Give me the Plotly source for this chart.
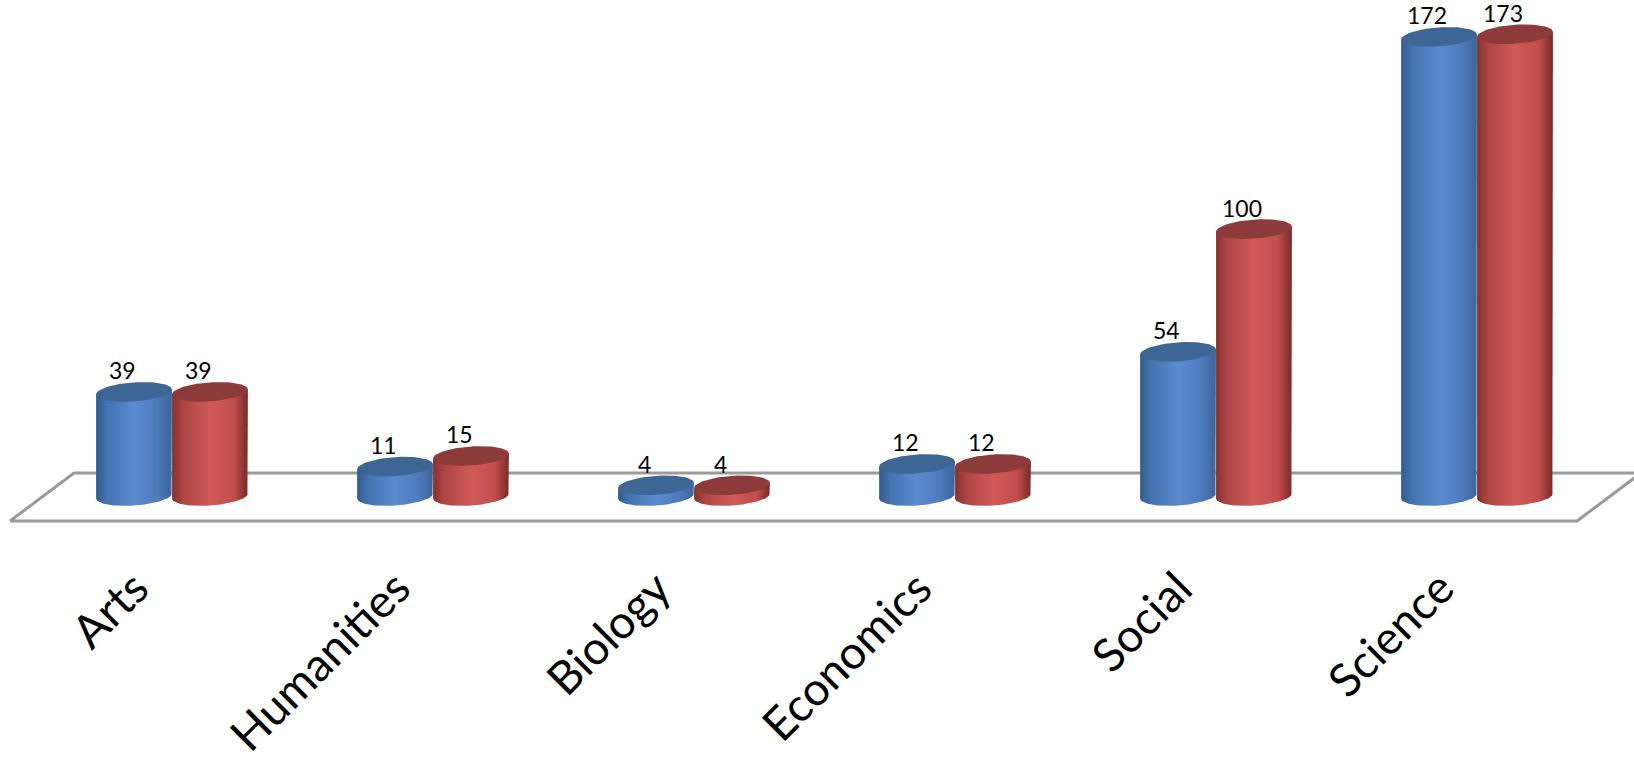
import numpy as np
import plotly.graph_objects as go

categories = ["Arts", "Humanities", "Biology", "Economics", "Social", "Science"]
series_blue = [39, 11, 4, 12, 54, 172]
series_red = [39, 15, 4, 12, 100, 173]

W, H = 1634, 762
PX_CAT = 261.0      # pixels per category step
PX_UNIT = 2.669     # pixels per value unit
X0_PX = 172.0       # pixel x of first category
Y0_PX = 496.0       # pixel y of value 0

x_range = [(0 - X0_PX) / PX_CAT, (W - X0_PX) / PX_CAT]
y_range = [(Y0_PX - H) / PX_UNIT, Y0_PX / PX_UNIT]

A_PX = 38.0          # cylinder radius in pixels
B_PX = 9.5           # ellipse half-height in pixels
PHI = np.radians(4)  # slight perspective tilt of the ellipses
OFF = 0.1455         # series offset from category center

BLUE_SCALE = [[0, "#325c8e"], [0.15, "#4473b0"], [0.5, "#5a8bd0"], [0.8, "#4f7cbb"], [1, "#3b6499"]]
RED_SCALE = [[0, "#863231"], [0.15, "#ad4543"], [0.5, "#d05a58"], [0.82, "#c04e4c"], [1, "#772a29"]]
BLUE_TOP = "#3e6695"
RED_TOP = "#8d3b3a"

fig = go.Figure()

# floor (depth plane)
fx = [(10 - X0_PX) / PX_CAT, (1577 - X0_PX) / PX_CAT, (1641 - X0_PX) / PX_CAT, (74 - X0_PX) / PX_CAT]
fy = [(Y0_PX - 521) / PX_UNIT, (Y0_PX - 521) / PX_UNIT, (Y0_PX - 473) / PX_UNIT, (Y0_PX - 473) / PX_UNIT]
fig.add_trace(go.Scatter(x=fx + [fx[0]], y=fy + [fy[0]], mode="lines", fill="toself",
                         fillcolor="white", line=dict(color="#9a9a9a", width=3),
                         hoverinfo="skip", showlegend=False))


def ell(t):
    ex = (A_PX * np.cos(t) * np.cos(PHI) - B_PX * np.sin(t) * np.sin(PHI)) / PX_CAT
    ey = (A_PX * np.cos(t) * np.sin(PHI) + B_PX * np.sin(t) * np.cos(PHI)) / PX_UNIT
    return ex, ey


T0 = np.arctan(-(B_PX / A_PX) * np.tan(PHI))  # parameter of the rightmost point


def cylinder(cx, v, scale, topcolor):
    xr, yr = ell(T0)
    xl, yl = ell(T0 + np.pi)
    tb = np.linspace(T0 + 2 * np.pi, T0 + np.pi, 60)  # lower (front) arc, right -> left
    ax, ay = ell(tb)
    bx = [cx + xl, cx + xl, cx + xr, cx + xr] + list(cx + ax)
    by = [yl, v + yl, v + yr, yr] + list(ay)
    fig.add_trace(go.Scatter(x=bx, y=by, mode="lines", fill="toself",
                             line=dict(width=0, color="rgba(0,0,0,0)"),
                             fillgradient=dict(type="horizontal", colorscale=scale),
                             hoverinfo="skip", showlegend=False))
    tt = np.linspace(0, 2 * np.pi, 90)
    ex, ey = ell(tt)
    fig.add_trace(go.Scatter(x=list(cx + ex), y=list(v + ey),
                             mode="lines", fill="toself", fillcolor=topcolor,
                             line=dict(width=0, color="rgba(0,0,0,0)"),
                             hoverinfo="skip", showlegend=False))


for i, cat in enumerate(categories):
    cylinder(i - OFF, series_blue[i], BLUE_SCALE, BLUE_TOP)
    cylinder(i + OFF, series_red[i], RED_SCALE, RED_TOP)

annotations = []
B_VAL = B_PX / PX_UNIT
for i, cat in enumerate(categories):
    for cx, v in ((i - OFF, series_blue[i]), (i + OFF, series_red[i])):
        annotations.append(dict(x=cx - 0.045, y=v + B_VAL, text=str(v), showarrow=False,
                                xanchor="center", yanchor="bottom", yshift=-3, borderpad=0,
                                font=dict(family="Lato", size=23, color="black")))
    annotations.append(dict(x=i - 12 / PX_CAT, y=(Y0_PX - 558) / PX_UNIT, text=cat,
                            showarrow=False, textangle=-45, xanchor="right", yanchor="top",
                            borderpad=0,
                            font=dict(family="Lato", size=46, color="black")))

fig.update_layout(
    width=W, height=H, autosize=False,
    margin=dict(l=0, r=0, t=0, b=0),
    paper_bgcolor="white", plot_bgcolor="white",
    xaxis=dict(range=x_range, visible=False, fixedrange=True),
    yaxis=dict(range=y_range, visible=False, fixedrange=True),
    annotations=annotations,
    showlegend=False,
)

fig.write_html("out.html")
